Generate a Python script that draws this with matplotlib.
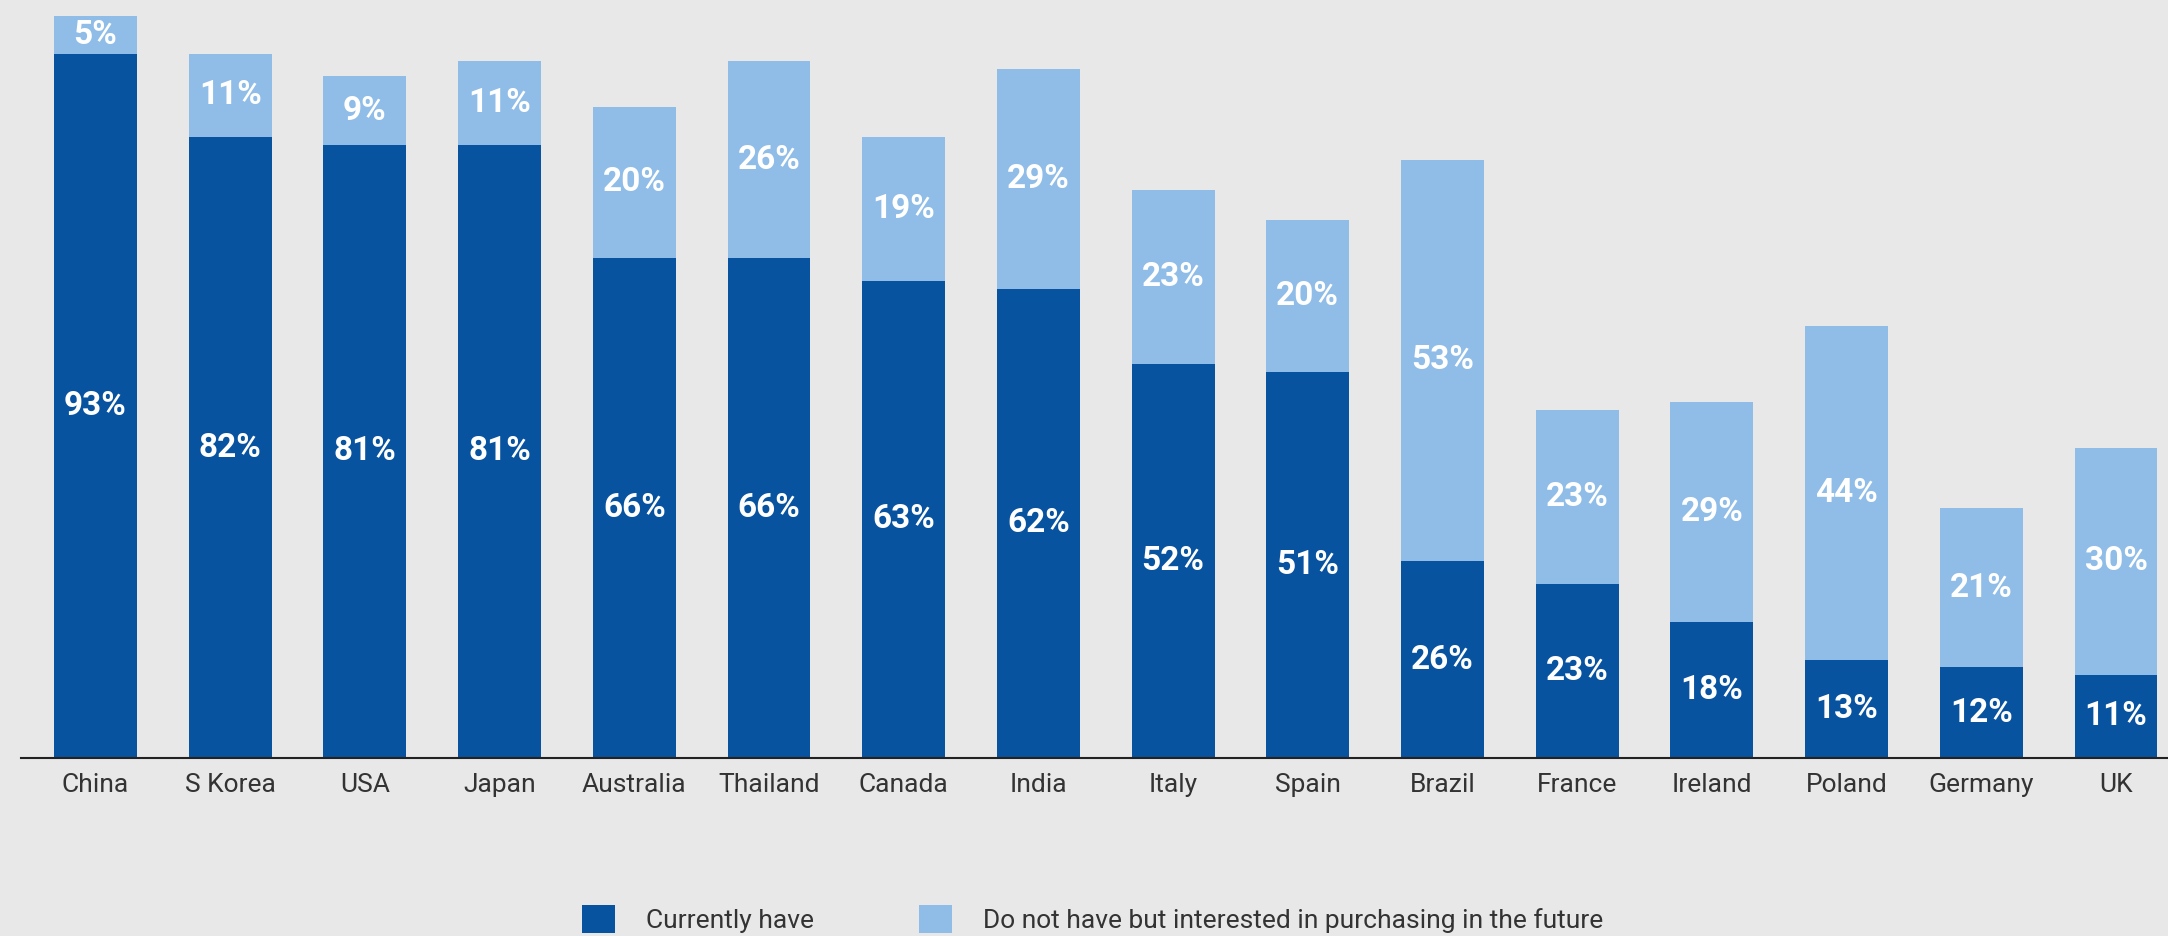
import numpy as np
import matplotlib.pyplot as plt
from matplotlib.patches import Patch

countries = ['China', 'S Korea', 'USA', 'Japan', 'Australia', 'Thailand', 'Canada', 'India',
             'Italy', 'Spain', 'Brazil', 'France', 'Ireland', 'Poland', 'Germany', 'UK']
currently_have = [93, 82, 81, 81, 66, 66, 63, 62, 52, 51, 26, 23, 18, 13, 12, 11]
interested = [5, 11, 9, 11, 20, 26, 19, 29, 23, 20, 53, 23, 29, 44, 21, 30]
legend_labels = ['Currently have', 'Do not have but interested in purchasing in the future']

DARK = '#0853A0'
LIGHT = '#8FBDE7'
BG = '#E8E8E8'

plt.rcParams['font.family'] = ['Roboto', 'DejaVu Sans']

fig = plt.figure(figsize=(21.68, 9.36), dpi=100, facecolor=BG)
ax = fig.add_axes([21 / 2168, 178 / 936, 1 - 21 / 2168, 758 / 936])
ax.set_facecolor(BG)

x = np.arange(len(countries))
width = 0.616
ax.bar(x, currently_have, width, color=DARK, zorder=2)
ax.bar(x, interested, width, bottom=currently_have, color=LIGHT, zorder=2)

for i in range(len(countries)):
    ax.text(x[i], currently_have[i] / 2, f'{currently_have[i]}%', ha='center', va='center',
            color='white', fontsize=24, fontweight='bold', zorder=3)
    ax.text(x[i], currently_have[i] + interested[i] / 2, f'{interested[i]}%', ha='center', va='center',
            color='white', fontsize=24, fontweight='bold', zorder=3)

ax.set_xlim(-0.553, 15.386)
ax.set_ylim(0, 100.1)
ax.set_xticks(x)
ax.set_xticklabels(countries, fontsize=19, color='#333333')
ax.tick_params(axis='x', length=0, pad=11)
ax.set_yticks([])
for side in ['top', 'right', 'left']:
    ax.spines[side].set_visible(False)
ax.spines['bottom'].set_color('#222222')
ax.spines['bottom'].set_linewidth(1.5)

handles = [Patch(facecolor=DARK), Patch(facecolor=LIGHT)]
fig.legend(handles, legend_labels, loc='center', bbox_to_anchor=(0.504, 0.018), ncol=2,
           frameon=False, fontsize=19, handlelength=1.25, handleheight=1.25,
           handletextpad=1.15, columnspacing=4.0, labelcolor='#333333')

fig.savefig('out.png', dpi=100, facecolor=BG)
